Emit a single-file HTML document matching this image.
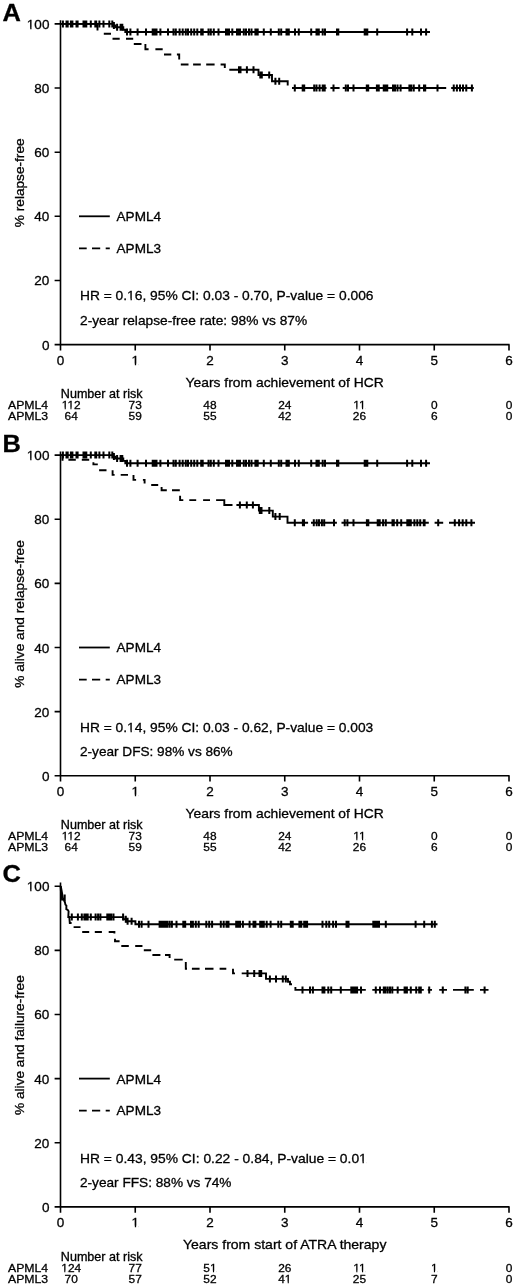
<!DOCTYPE html><html><head><meta charset="utf-8"><style>html,body{margin:0;padding:0;background:#fff;}svg{display:block;filter:grayscale(1) blur(0.25px);}</style></head><body>
<svg width="520" height="1287" viewBox="0 0 520 1287">
<rect width="520" height="1287" fill="#fff"/>
<g font-family="Liberation Sans, sans-serif" fill="#000" stroke="#000" stroke-width="0.3">
<g transform="translate(0 0)">
<text x="2.4" y="21.3" font-size="24.4" textLength="18.4" lengthAdjust="spacingAndGlyphs" font-weight="bold">A</text>
<path d="M60.5 20.3 V344.6 H509.6 M54.6 23.9 H60.5 M54.6 88.04 H60.5 M54.6 152.18 H60.5 M54.6 216.32 H60.5 M54.6 280.46 H60.5 M54.6 344.6 H60.5 M60.5 344.6 V350.4 M135.25 344.6 V350.4 M210 344.6 V350.4 M284.75 344.6 V350.4 M359.5 344.6 V350.4 M434.25 344.6 V350.4 M509 344.6 V350.4" stroke="#000" stroke-width="1.6" fill="none"/>
<text x="49.4" y="28.9" font-size="13.5" text-anchor="end">100</text>
<text x="49.4" y="93.04" font-size="13.5" text-anchor="end">80</text>
<text x="49.4" y="157.18" font-size="13.5" text-anchor="end">60</text>
<text x="49.4" y="221.32" font-size="13.5" text-anchor="end">40</text>
<text x="49.4" y="285.46" font-size="13.5" text-anchor="end">20</text>
<text x="49.4" y="349.6" font-size="13.5" text-anchor="end">0</text>
<text x="60.5" y="364.6" font-size="13.5" text-anchor="middle">0</text>
<text x="135.25" y="364.6" font-size="13.5" text-anchor="middle">1</text>
<text x="210" y="364.6" font-size="13.5" text-anchor="middle">2</text>
<text x="284.75" y="364.6" font-size="13.5" text-anchor="middle">3</text>
<text x="359.5" y="364.6" font-size="13.5" text-anchor="middle">4</text>
<text x="434.25" y="364.6" font-size="13.5" text-anchor="middle">5</text>
<text x="509" y="364.6" font-size="13.5" text-anchor="middle">6</text>
<text transform="translate(24.2 182.8) rotate(-90)" text-anchor="middle" font-size="13.5" textLength="88.7" lengthAdjust="spacingAndGlyphs">% relapse-free</text>
<path d="M79 216.3 H109.8" stroke="#000" stroke-width="1.8"/>
<path d="M79 248.4 H86.7 M92 248.4 H100.2 M105.7 248.4 H109.8" stroke="#000" stroke-width="1.8"/>
<text x="116.6" y="221.3" font-size="13.5" textLength="44.4" lengthAdjust="spacingAndGlyphs">APML4</text>
<text x="116.6" y="252.9" font-size="13.5" textLength="44.4" lengthAdjust="spacingAndGlyphs">APML3</text>
<text x="80" y="300.4" font-size="13.5" textLength="293.5" lengthAdjust="spacingAndGlyphs">HR = 0.16, 95% CI: 0.03 - 0.70, P-value = 0.006</text>
<text x="80" y="325" font-size="13.5" textLength="227.1" lengthAdjust="spacingAndGlyphs">2-year relapse-free rate: 98% vs 87%</text>
<text x="284.7" y="386.7" font-size="13.5" text-anchor="middle" textLength="198.2" lengthAdjust="spacingAndGlyphs">Years from achievement of HCR</text>
<text x="60.8" y="397.7" font-size="11.9" textLength="81.8" lengthAdjust="spacingAndGlyphs">Number at risk</text>
<g transform="matrix(1 0 0 0.92 0 32.7)">
<text x="8" y="408.7" font-size="11.9" textLength="40.2" lengthAdjust="spacingAndGlyphs">APML4</text>
<text x="71.2" y="408.7" font-size="11.9" text-anchor="middle">112</text>
<text x="135.25" y="408.7" font-size="11.9" text-anchor="middle">73</text>
<text x="210" y="408.7" font-size="11.9" text-anchor="middle">48</text>
<text x="284.75" y="408.7" font-size="11.9" text-anchor="middle">24</text>
<text x="359.5" y="408.7" font-size="11.9" text-anchor="middle">11</text>
<text x="434.25" y="408.7" font-size="11.9" text-anchor="middle">0</text>
<text x="509" y="408.7" font-size="11.9" text-anchor="middle">0</text>
</g>
<g transform="matrix(1 0 0 0.92 0 33.57)">
<text x="8" y="419.6" font-size="11.9" textLength="40.2" lengthAdjust="spacingAndGlyphs">APML3</text>
<text x="71.2" y="419.6" font-size="11.9" text-anchor="middle">64</text>
<text x="135.25" y="419.6" font-size="11.9" text-anchor="middle">59</text>
<text x="210" y="419.6" font-size="11.9" text-anchor="middle">55</text>
<text x="284.75" y="419.6" font-size="11.9" text-anchor="middle">42</text>
<text x="359.5" y="419.6" font-size="11.9" text-anchor="middle">26</text>
<text x="434.25" y="419.6" font-size="11.9" text-anchor="middle">6</text>
<text x="509" y="419.6" font-size="11.9" text-anchor="middle">0</text>
</g>
</g>
<g transform="translate(0 431.2)">
<text x="2.4" y="20.3" font-size="24.4" textLength="18.4" lengthAdjust="spacingAndGlyphs" font-weight="bold">B</text>
<path d="M60.5 20.3 V344.6 H509.6 M54.6 23.9 H60.5 M54.6 88.04 H60.5 M54.6 152.18 H60.5 M54.6 216.32 H60.5 M54.6 280.46 H60.5 M54.6 344.6 H60.5 M60.5 344.6 V350.4 M135.25 344.6 V350.4 M210 344.6 V350.4 M284.75 344.6 V350.4 M359.5 344.6 V350.4 M434.25 344.6 V350.4 M509 344.6 V350.4" stroke="#000" stroke-width="1.6" fill="none"/>
<text x="49.4" y="28.9" font-size="13.5" text-anchor="end">100</text>
<text x="49.4" y="93.04" font-size="13.5" text-anchor="end">80</text>
<text x="49.4" y="157.18" font-size="13.5" text-anchor="end">60</text>
<text x="49.4" y="221.32" font-size="13.5" text-anchor="end">40</text>
<text x="49.4" y="285.46" font-size="13.5" text-anchor="end">20</text>
<text x="49.4" y="349.6" font-size="13.5" text-anchor="end">0</text>
<text x="60.5" y="364.6" font-size="13.5" text-anchor="middle">0</text>
<text x="135.25" y="364.6" font-size="13.5" text-anchor="middle">1</text>
<text x="210" y="364.6" font-size="13.5" text-anchor="middle">2</text>
<text x="284.75" y="364.6" font-size="13.5" text-anchor="middle">3</text>
<text x="359.5" y="364.6" font-size="13.5" text-anchor="middle">4</text>
<text x="434.25" y="364.6" font-size="13.5" text-anchor="middle">5</text>
<text x="509" y="364.6" font-size="13.5" text-anchor="middle">6</text>
<text transform="translate(24.2 182.8) rotate(-90)" text-anchor="middle" font-size="13.5" textLength="147.6" lengthAdjust="spacingAndGlyphs">% alive and relapse-free</text>
<path d="M79 216.3 H109.8" stroke="#000" stroke-width="1.8"/>
<path d="M79 248.4 H86.7 M92 248.4 H100.2 M105.7 248.4 H109.8" stroke="#000" stroke-width="1.8"/>
<text x="116.6" y="221.3" font-size="13.5" textLength="44.4" lengthAdjust="spacingAndGlyphs">APML4</text>
<text x="116.6" y="252.9" font-size="13.5" textLength="44.4" lengthAdjust="spacingAndGlyphs">APML3</text>
<text x="80" y="300.4" font-size="13.5" textLength="293.3" lengthAdjust="spacingAndGlyphs">HR = 0.14, 95% CI: 0.03 - 0.62, P-value = 0.003</text>
<text x="80" y="325" font-size="13.5" textLength="152.7" lengthAdjust="spacingAndGlyphs">2-year DFS: 98% vs 86%</text>
<text x="284.7" y="386.7" font-size="13.5" text-anchor="middle" textLength="198.2" lengthAdjust="spacingAndGlyphs">Years from achievement of HCR</text>
<text x="60.8" y="397.7" font-size="11.9" textLength="81.8" lengthAdjust="spacingAndGlyphs">Number at risk</text>
<g transform="matrix(1 0 0 0.92 0 32.7)">
<text x="8" y="408.7" font-size="11.9" textLength="40.2" lengthAdjust="spacingAndGlyphs">APML4</text>
<text x="71.2" y="408.7" font-size="11.9" text-anchor="middle">112</text>
<text x="135.25" y="408.7" font-size="11.9" text-anchor="middle">73</text>
<text x="210" y="408.7" font-size="11.9" text-anchor="middle">48</text>
<text x="284.75" y="408.7" font-size="11.9" text-anchor="middle">24</text>
<text x="359.5" y="408.7" font-size="11.9" text-anchor="middle">11</text>
<text x="434.25" y="408.7" font-size="11.9" text-anchor="middle">0</text>
<text x="509" y="408.7" font-size="11.9" text-anchor="middle">0</text>
</g>
<g transform="matrix(1 0 0 0.92 0 33.57)">
<text x="8" y="419.6" font-size="11.9" textLength="40.2" lengthAdjust="spacingAndGlyphs">APML3</text>
<text x="71.2" y="419.6" font-size="11.9" text-anchor="middle">64</text>
<text x="135.25" y="419.6" font-size="11.9" text-anchor="middle">59</text>
<text x="210" y="419.6" font-size="11.9" text-anchor="middle">55</text>
<text x="284.75" y="419.6" font-size="11.9" text-anchor="middle">42</text>
<text x="359.5" y="419.6" font-size="11.9" text-anchor="middle">26</text>
<text x="434.25" y="419.6" font-size="11.9" text-anchor="middle">6</text>
<text x="509" y="419.6" font-size="11.9" text-anchor="middle">0</text>
</g>
</g>
<g transform="translate(0 862.3)">
<text x="2.4" y="19.7" font-size="24.4" textLength="18.4" lengthAdjust="spacingAndGlyphs" font-weight="bold">C</text>
<path d="M60.5 20.3 V344.6 H509.6 M54.6 23.9 H60.5 M54.6 88.04 H60.5 M54.6 152.18 H60.5 M54.6 216.32 H60.5 M54.6 280.46 H60.5 M54.6 344.6 H60.5 M60.5 344.6 V350.4 M135.25 344.6 V350.4 M210 344.6 V350.4 M284.75 344.6 V350.4 M359.5 344.6 V350.4 M434.25 344.6 V350.4 M509 344.6 V350.4" stroke="#000" stroke-width="1.6" fill="none"/>
<text x="49.4" y="28.9" font-size="13.5" text-anchor="end">100</text>
<text x="49.4" y="93.04" font-size="13.5" text-anchor="end">80</text>
<text x="49.4" y="157.18" font-size="13.5" text-anchor="end">60</text>
<text x="49.4" y="221.32" font-size="13.5" text-anchor="end">40</text>
<text x="49.4" y="285.46" font-size="13.5" text-anchor="end">20</text>
<text x="49.4" y="349.6" font-size="13.5" text-anchor="end">0</text>
<text x="60.5" y="364.6" font-size="13.5" text-anchor="middle">0</text>
<text x="135.25" y="364.6" font-size="13.5" text-anchor="middle">1</text>
<text x="210" y="364.6" font-size="13.5" text-anchor="middle">2</text>
<text x="284.75" y="364.6" font-size="13.5" text-anchor="middle">3</text>
<text x="359.5" y="364.6" font-size="13.5" text-anchor="middle">4</text>
<text x="434.25" y="364.6" font-size="13.5" text-anchor="middle">5</text>
<text x="509" y="364.6" font-size="13.5" text-anchor="middle">6</text>
<text transform="translate(24.2 182.8) rotate(-90)" text-anchor="middle" font-size="13.5" textLength="139.8" lengthAdjust="spacingAndGlyphs">% alive and failure-free</text>
<path d="M79 216.3 H109.8" stroke="#000" stroke-width="1.8"/>
<path d="M79 248.4 H86.7 M92 248.4 H100.2 M105.7 248.4 H109.8" stroke="#000" stroke-width="1.8"/>
<text x="116.6" y="221.3" font-size="13.5" textLength="44.4" lengthAdjust="spacingAndGlyphs">APML4</text>
<text x="116.6" y="252.9" font-size="13.5" textLength="44.4" lengthAdjust="spacingAndGlyphs">APML3</text>
<text x="80" y="300.4" font-size="13.5" textLength="286.8" lengthAdjust="spacingAndGlyphs">HR = 0.43, 95% CI: 0.22 - 0.84, P-value = 0.01</text>
<text x="80" y="325" font-size="13.5" textLength="151.5" lengthAdjust="spacingAndGlyphs">2-year FFS: 88% vs 74%</text>
<text x="284.7" y="386.7" font-size="13.5" text-anchor="middle" textLength="203.4" lengthAdjust="spacingAndGlyphs">Years from start of ATRA therapy</text>
<text x="60.8" y="398.4" font-size="11.9" textLength="81.8" lengthAdjust="spacingAndGlyphs">Number at risk</text>
<g transform="matrix(1 0 0 0.92 0 32.75)">
<text x="8" y="409.4" font-size="11.9" textLength="40.2" lengthAdjust="spacingAndGlyphs">APML4</text>
<text x="71.2" y="409.4" font-size="11.9" text-anchor="middle">124</text>
<text x="135.25" y="409.4" font-size="11.9" text-anchor="middle">77</text>
<text x="210" y="409.4" font-size="11.9" text-anchor="middle">51</text>
<text x="284.75" y="409.4" font-size="11.9" text-anchor="middle">26</text>
<text x="359.5" y="409.4" font-size="11.9" text-anchor="middle">11</text>
<text x="434.25" y="409.4" font-size="11.9" text-anchor="middle">1</text>
<text x="509" y="409.4" font-size="11.9" text-anchor="middle">0</text>
</g>
<g transform="matrix(1 0 0 0.92 0 33.62)">
<text x="8" y="420.3" font-size="11.9" textLength="40.2" lengthAdjust="spacingAndGlyphs">APML3</text>
<text x="71.2" y="420.3" font-size="11.9" text-anchor="middle">70</text>
<text x="135.25" y="420.3" font-size="11.9" text-anchor="middle">57</text>
<text x="210" y="420.3" font-size="11.9" text-anchor="middle">52</text>
<text x="284.75" y="420.3" font-size="11.9" text-anchor="middle">41</text>
<text x="359.5" y="420.3" font-size="11.9" text-anchor="middle">25</text>
<text x="434.25" y="420.3" font-size="11.9" text-anchor="middle">7</text>
<text x="509" y="420.3" font-size="11.9" text-anchor="middle">0</text>
</g>
</g>
</g>
<path d="M60.5 23.9 H113.3 V25.4 H115.3 V27.3 H123.3 V29.7 H125.3 V32 H430" stroke="#000" stroke-width="1.9" fill="none" stroke-linejoin="miter" stroke-linecap="butt"/>
<path d="M62.9 20.4 v7 M66.5 20.4 v7 M67.7 20.4 v7 M70.9 20.4 v7 M72.4 20.4 v7 M76.5 20.4 v7 M77.6 20.4 v7 M83.5 20.4 v7 M85 20.4 v7 M86.3 20.4 v7 M90.8 20.4 v7 M95.3 20.4 v7 M96.2 20.4 v7 M99.4 20.4 v7 M103.5 20.4 v7 M109.3 20.4 v7 M112.3 20.4 v7 M113.9 21.9 v7 M117.1 23.8 v7 M120.6 23.8 v7 M122.3 23.8 v7 M127 28.5 v7 M130.4 28.5 v7 M137.6 28.5 v7 M146 28.5 v7 M152.7 28.5 v7 M154 28.5 v7 M155.3 28.5 v7 M156.5 28.5 v7 M160.4 28.5 v7 M168 28.5 v7 M173.5 28.5 v7 M175.8 28.5 v7 M179.6 28.5 v7 M182.7 28.5 v7 M185.8 28.5 v7 M188 28.5 v7 M191.2 28.5 v7 M194.2 28.5 v7 M197.3 28.5 v7 M201.2 28.5 v7 M202.7 28.5 v7 M208.5 28.5 v7 M210.8 28.5 v7 M213.8 28.5 v7 M218.5 28.5 v7 M226 28.5 v7 M227.5 28.5 v7 M229 28.5 v7 M232.3 28.5 v7 M237 28.5 v7 M238.5 28.5 v7 M240 28.5 v7 M243.8 28.5 v7 M246 28.5 v7 M249 28.5 v7 M251.5 28.5 v7 M255.4 28.5 v7 M256.5 28.5 v7 M257.7 28.5 v7 M263.8 28.5 v7 M270.8 28.5 v7 M278.8 28.5 v7 M281.2 28.5 v7 M286.5 28.5 v7 M287.7 28.5 v7 M288.8 28.5 v7 M295 28.5 v7 M298.8 28.5 v7 M311.2 28.5 v7 M316.5 28.5 v7 M317.6 28.5 v7 M318.8 28.5 v7 M322.7 28.5 v7 M325 28.5 v7 M337 28.5 v7 M338.3 28.5 v7 M364.7 28.5 v7 M366 28.5 v7 M367.3 28.5 v7 M377.2 28.5 v7 M407.1 28.5 v7 M412.3 28.5 v7 M421 28.5 v7 M426.1 28.5 v7" stroke="#000" stroke-width="2.0" fill="none"/>
<path d="M60.5 455.1 H113.3 V456.6 H115.3 V458.5 H123.3 V460.9 H125.3 V463.2 H430" stroke="#000" stroke-width="1.9" fill="none" stroke-linejoin="miter" stroke-linecap="butt"/>
<path d="M62.9 451.6 v7 M66.5 451.6 v7 M67.7 451.6 v7 M70.9 451.6 v7 M72.4 451.6 v7 M76.5 451.6 v7 M77.6 451.6 v7 M83.5 451.6 v7 M85 451.6 v7 M86.3 451.6 v7 M90.8 451.6 v7 M95.3 451.6 v7 M96.2 451.6 v7 M99.4 451.6 v7 M103.5 451.6 v7 M109.3 451.6 v7 M112.3 451.6 v7 M113.9 453.1 v7 M117.1 455 v7 M120.6 455 v7 M122.3 455 v7 M127 459.7 v7 M130.4 459.7 v7 M137.6 459.7 v7 M146 459.7 v7 M152.7 459.7 v7 M154 459.7 v7 M155.3 459.7 v7 M156.5 459.7 v7 M160.4 459.7 v7 M168 459.7 v7 M173.5 459.7 v7 M175.8 459.7 v7 M179.6 459.7 v7 M182.7 459.7 v7 M185.8 459.7 v7 M188 459.7 v7 M191.2 459.7 v7 M194.2 459.7 v7 M197.3 459.7 v7 M201.2 459.7 v7 M202.7 459.7 v7 M208.5 459.7 v7 M210.8 459.7 v7 M213.8 459.7 v7 M218.5 459.7 v7 M226 459.7 v7 M227.5 459.7 v7 M229 459.7 v7 M232.3 459.7 v7 M237 459.7 v7 M238.5 459.7 v7 M240 459.7 v7 M243.8 459.7 v7 M246 459.7 v7 M249 459.7 v7 M251.5 459.7 v7 M255.4 459.7 v7 M256.5 459.7 v7 M257.7 459.7 v7 M263.8 459.7 v7 M270.8 459.7 v7 M278.8 459.7 v7 M281.2 459.7 v7 M286.5 459.7 v7 M287.7 459.7 v7 M288.8 459.7 v7 M295 459.7 v7 M298.8 459.7 v7 M311.2 459.7 v7 M316.5 459.7 v7 M317.6 459.7 v7 M318.8 459.7 v7 M322.7 459.7 v7 M325 459.7 v7 M337 459.7 v7 M338.3 459.7 v7 M364.7 459.7 v7 M366 459.7 v7 M367.3 459.7 v7 M377.2 459.7 v7 M407.1 459.7 v7 M412.3 459.7 v7 M421 459.7 v7 M426.1 459.7 v7" stroke="#000" stroke-width="2.0" fill="none"/>
<path d="M60.5 23.9 L97.5 23.9 L97.5 30.6 M103.8 33.7 L111 33.7 M112.5 38.8 L119.7 38.8 M126 38.8 L133.2 38.8 M133.8 44 L141.5 44 M145.4 44 L145.4 49.2 L148.6 49.2 M155.4 49.2 L162.7 49.2 M164 54.5 L171.3 54.5 M176.9 54.5 L179.2 54.5 L179.2 59.6 M180.8 64.5 L188.5 64.5 M193.1 64.5 L200.8 64.5 M206.2 64.5 L214.6 64.5 M220.6 64.5 L224.8 64.5 L224.8 68 M229.3 69.8 L258.5 69.8 L258.5 75 L272 75 L272 81.2 L287.7 81.2 L287.7 85.6 M292 88 L326.5 88 M330.4 88 L339.6 88 M342.7 88 L446.2 88 M451.2 88 L473.8 88" stroke="#000" stroke-width="1.9" fill="none" stroke-linejoin="miter" stroke-linecap="butt"/>
<path d="M239 66.3 v7 M240.5 66.3 v7 M246.9 66.3 v7 M253.5 66.3 v7 M260.3 71.5 v7 M261.8 71.5 v7 M269.2 71.5 v7 M275.4 77.7 v7 M279.2 77.7 v7 M294.8 84.5 v7 M302.7 84.5 v7 M304.2 84.5 v7 M314.2 84.5 v7 M316.5 84.5 v7 M319.6 84.5 v7 M322.7 84.5 v7 M324.7 84.5 v7 M333.5 84.5 v7 M345.8 84.5 v7 M348 84.5 v7 M353.5 84.5 v7 M366.8 84.5 v7 M368.2 84.5 v7 M376.9 84.5 v7 M378.75 84.5 v7 M383.75 84.5 v7 M385.6 84.5 v7 M387.25 84.5 v7 M393 84.5 v7 M395 84.5 v7 M397.5 84.5 v7 M400.6 84.5 v7 M409.4 84.5 v7 M411.25 84.5 v7 M413.75 84.5 v7 M419.2 84.5 v7 M424 84.5 v7 M425.2 84.5 v7 M437.5 84.5 v7 M453.75 84.5 v7 M456.9 84.5 v7 M460 84.5 v7 M463 84.5 v7 M466.25 84.5 v7 M471.9 84.5 v7" stroke="#000" stroke-width="2.0" fill="none"/>
<path d="M60.5 455.1 L62.5 455.1 L62.5 459.7 L63.5 459.7 M68.4 459.7 L75.8 459.7 M81.8 459.7 L89.2 459.7 M93.4 462.3 L93.4 464.4 L97.8 464.4 M99.1 470.2 L106.5 470.2 M112.6 470.2 L112.6 474.9 L114.6 474.9 M120.7 474.9 L128 474.9 M133.5 474.9 L133.5 479.9 L136.1 479.9 M142.9 479.9 L144.6 479.9 L144.6 483.5 M151.2 485 L158.2 485 M161.6 487.1 L161.6 490.2 L166.8 490.2 M172 490.2 L179.8 490.2 M180.1 495.8 L180.1 500.1 L183.3 500.1 M189.3 500.1 L196.2 500.1 M203.1 500.1 L210 500.1 M216.1 500.1 L224.3 500.1 L224.3 505 L232.5 505 M236.4 505 L258.9 505 L258.9 510.6 L272.8 510.6 L272.8 516.6 L287.5 516.6 L287.5 522.8 L308.1 522.8 M311 522.8 L336.9 522.8 M341.5 522.8 L428.8 522.8 M434.6 522.8 L443.2 522.8 M449 522.8 L475 522.8" stroke="#000" stroke-width="1.9" fill="none" stroke-linejoin="miter" stroke-linecap="butt"/>
<path d="M239.9 501.5 v7 M246.8 501.5 v7 M252.9 501.5 v7 M259.8 507.1 v7 M261.5 507.1 v7 M269.3 507.1 v7 M275.4 513.1 v7 M279.7 513.1 v7 M294.8 519.3 v7 M302.9 519.3 v7 M304 519.3 v7 M313.8 519.3 v7 M316.7 519.3 v7 M319 519.3 v7 M321.9 519.3 v7 M324.2 519.3 v7 M334 519.3 v7 M344.7 519.3 v7 M347.4 519.3 v7 M353.5 519.3 v7 M366.9 519.3 v7 M368.3 519.3 v7 M377.7 519.3 v7 M379.7 519.3 v7 M383.1 519.3 v7 M385.8 519.3 v7 M392.5 519.3 v7 M393.8 519.3 v7 M397.2 519.3 v7 M401.2 519.3 v7 M407.3 519.3 v7 M409.3 519.3 v7 M410.8 519.3 v7 M414.4 519.3 v7 M417.3 519.3 v7 M420.2 519.3 v7 M423.8 519.3 v7 M424.6 519.3 v7 M438.2 519.3 v7 M454.8 519.3 v7 M459.1 519.3 v7 M462.7 519.3 v7 M466.3 519.3 v7 M471.4 519.3 v7" stroke="#000" stroke-width="2.0" fill="none"/>
<path d="M60.6 886 L61.3 889 L62.1 893.5 L62.8 897.8 L64 900.2 L65 902.5 L65.4 904.6 L66.4 905.6 L66.3 909.2 L67.6 909.8 L68.6 911.2 L68.3 917.1 L123.5 917.1 L123.5 919.2 L126.3 919.2 L126.3 921.2 L135.4 921.2 L135.4 924.2 L437.5 924.2" stroke="#000" stroke-width="1.9" fill="none" stroke-linejoin="miter" stroke-linecap="butt"/>
<path d="M64.7 894.5 v7 M71.8 913.6 v7 M77.9 913.6 v7 M81.8 913.6 v7 M84.4 913.6 v7 M85.5 913.6 v7 M86.6 913.6 v7 M87.7 913.6 v7 M90.8 913.6 v7 M95.6 913.6 v7 M98.1 913.6 v7 M100.4 913.6 v7 M107.3 913.6 v7 M108.6 913.6 v7 M110 913.6 v7 M111.2 913.6 v7 M113.5 913.6 v7 M123.1 913.6 v7 M125.8 915.7 v7 M127.6 917.7 v7 M131.6 917.7 v7 M139 920.7 v7 M141.6 920.7 v7 M148.5 920.7 v7 M159.6 920.7 v7 M161.5 920.7 v7 M163.5 920.7 v7 M165.4 920.7 v7 M167.3 920.7 v7 M169.6 920.7 v7 M171.9 920.7 v7 M176.5 920.7 v7 M183.3 920.7 v7 M184.3 920.7 v7 M185.2 920.7 v7 M191 920.7 v7 M192.9 920.7 v7 M195.8 920.7 v7 M198.7 920.7 v7 M206.3 920.7 v7 M209.2 920.7 v7 M212.1 920.7 v7 M220.8 920.7 v7 M223.7 920.7 v7 M226.5 920.7 v7 M228.5 920.7 v7 M236.2 920.7 v7 M237.5 920.7 v7 M238.8 920.7 v7 M240 920.7 v7 M242.9 920.7 v7 M249.6 920.7 v7 M253.5 920.7 v7 M255.4 920.7 v7 M260.2 920.7 v7 M262.1 920.7 v7 M263.8 920.7 v7 M266.7 920.7 v7 M270.6 920.7 v7 M278.3 920.7 v7 M281.2 920.7 v7 M290.8 920.7 v7 M292.7 920.7 v7 M299.4 920.7 v7 M301.3 920.7 v7 M304.2 920.7 v7 M305.6 920.7 v7 M307.1 920.7 v7 M322.5 920.7 v7 M326.3 920.7 v7 M329.2 920.7 v7 M333.1 920.7 v7 M336 920.7 v7 M346.5 920.7 v7 M348.5 920.7 v7 M373.3 920.7 v7 M375.2 920.7 v7 M377.1 920.7 v7 M379 920.7 v7 M385.8 920.7 v7 M415.6 920.7 v7 M424.2 920.7 v7 M431.9 920.7 v7 M434.8 920.7 v7" stroke="#000" stroke-width="2.0" fill="none"/>
<path d="M60.6 886 L61 892 L61.6 898.5 L62.6 900.5 M68.3 917 L69.3 917 L69.8 923 L71.6 923 M73.6 927.1 L80.5 927.1 M82.2 932 L89.2 932 M94.8 932 L101.9 932 M108.7 932 L114.4 932 L114.4 933.5 M115 938.8 L115 941.2 L119.6 941.2 M121.3 946 L128.8 946 M135.2 946 L141.5 946 L141.5 947 M143.8 950.3 L151.2 950.3 M152.4 955 L160.4 955 M165 955 L169.6 955 L169.6 958 M174.2 959.6 L182.7 959.6 M185.8 961.9 L185.8 968.8 L187 968.8 M191.9 968.8 L199.6 968.8 M205 968.8 L213.5 968.8 M219.6 968.8 L226.3 968.8 M233 968.8 L233 973.4 L235 973.4 M241.7 973.4 L266 973.4 L266 978.9 L288 978.9 L288 981.8 L290 981.8 L290 984.2 L292 984.2 M295.4 987.1 L295.4 989.9 L365.8 989.9 M372.3 989.9 L423.8 989.9 M427.7 989.9 L432 989.9 M439.2 989.9 L447 989.9 M453 989.9 L473.8 989.9 M480 989.9 L488.5 989.9" stroke="#000" stroke-width="1.9" fill="none" stroke-linejoin="miter" stroke-linecap="butt"/>
<path d="M247.5 969.9 v7 M254.2 969.9 v7 M259.5 969.9 v7 M261.2 969.9 v7 M269.9 975.4 v7 M276 975.4 v7 M282.8 975.4 v7 M285.8 975.4 v7 M302.5 986.4 v7 M310 986.4 v7 M312.9 986.4 v7 M322.5 986.4 v7 M323.5 986.4 v7 M324.4 986.4 v7 M328.3 986.4 v7 M331.2 986.4 v7 M340.8 986.4 v7 M351.3 986.4 v7 M353.2 986.4 v7 M355.2 986.4 v7 M357.1 986.4 v7 M361 986.4 v7 M375.8 986.4 v7 M380 986.4 v7 M383.8 986.4 v7 M385.4 986.4 v7 M387.7 986.4 v7 M390 986.4 v7 M392.3 986.4 v7 M397.7 986.4 v7 M404.6 986.4 v7 M405.8 986.4 v7 M406.9 986.4 v7 M410.8 986.4 v7 M416.2 986.4 v7 M419.2 986.4 v7 M420.8 986.4 v7 M429.2 986.4 v7 M442.8 986.4 v7 M465.4 986.4 v7 M467.7 986.4 v7 M484.6 986.4 v7" stroke="#000" stroke-width="2.0" fill="none"/>
<path d="M26.96 27.64H30.21V30H26.96Z M31.51 27.64H34.21V30H31.51Z M131.58 363.64H134.84V366H131.58Z M136.13 363.64H138.83V366H136.13Z M127.22 298.64H130.53V301H127.22Z M131.85 298.64H134.6V301H131.85Z M61.69 407.76H64.66V410H61.69Z M65.81 407.76H68.24V410H65.81Z M67.42 407.76H70.39V410H67.42Z M71.54 407.76H73.97V410H71.54Z M353.3 407.76H356.27V410H353.3Z M357.42 407.76H359.85V410H357.42Z M359.02 407.76H362V410H359.02Z M363.15 407.76H365.57V410H363.15Z M26.96 458.64H30.21V461H26.96Z M31.51 458.64H34.21V461H31.51Z M131.58 794.64H134.84V797H131.58Z M136.13 794.64H138.83V797H136.13Z M127.19 730.64H130.5V733H127.19Z M131.81 730.64H134.56V733H131.81Z M61.69 838.76H64.66V841H61.69Z M65.81 838.76H68.24V841H65.81Z M67.42 838.76H70.39V841H67.42Z M71.54 838.76H73.97V841H71.54Z M353.3 838.76H356.27V841H353.3Z M357.42 838.76H359.85V841H357.42Z M359.02 838.76H362V841H359.02Z M363.15 838.76H365.57V841H363.15Z M26.96 889.64H30.21V892H26.96Z M31.51 889.64H34.21V892H31.51Z M131.58 1225.64H134.84V1228H131.58Z M136.13 1225.64H138.83V1228H136.13Z M359.2 1161.64H362.51V1164H359.2Z M363.83 1161.64H366.59V1164H363.83Z M61.25 1270.76H64.22V1273H61.25Z M65.37 1270.76H67.8V1273H65.37Z M209.96 1270.76H212.93V1273H209.96Z M214.08 1270.76H216.51V1273H214.08Z M353.3 1270.76H356.27V1273H353.3Z M357.42 1270.76H359.85V1273H357.42Z M359.02 1270.76H362V1273H359.02Z M363.15 1270.76H365.57V1273H363.15Z M430.91 1270.76H433.88V1273H430.91Z M435.03 1270.76H437.46V1273H435.03Z M284.71 1281.76H287.68V1284H284.71Z M288.83 1281.76H291.26V1284H288.83Z" fill="#fff"/>
</svg></body></html>
